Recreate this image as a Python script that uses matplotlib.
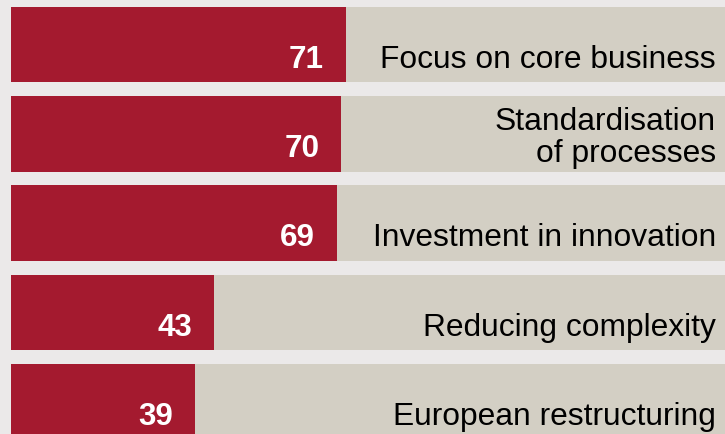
import matplotlib.pyplot as plt

# data
labels = ['Focus on core business', 'Standardisation\nof processes',
          'Investment in innovation', 'Reducing complexity', 'European restructuring']
values = [71, 70, 69, 43, 39]

red = '#a41a2f'
beige = '#d3cfc4'
bg = '#ebe9e9'

plt.rcParams['font.family'] = ['Liberation Sans', 'DejaVu Sans']

fig = plt.figure(figsize=(7.25, 4.35), dpi=100, facecolor=bg)
ax = fig.add_axes([0, 0, 1, 1])
ax.set_facecolor(bg)

pos = list(range(len(values)))
ax.barh(pos, [200] * len(values), height=0.845, color=beige, left=0)
ax.barh(pos, values, height=0.845, color=red, left=0)

for i, (v, lab) in enumerate(zip(values, labels)):
    ax.annotate(str(v), xy=(v, i), xytext=(-22, -22), textcoords='offset pixels',
                ha='right', va='baseline', color='white', fontsize=22.6, fontweight='bold')
    # two-line labels sit a little lower
    dy = -27 if '\n' in lab else -22
    ax.annotate(lab, xy=(1, i), xycoords=('axes fraction', 'data'), xytext=(-9, dy),
                textcoords='offset pixels', ha='right', va='baseline', color='black',
                fontsize=22.9, linespacing=1.1)

ax.set_xlim(-11 / 4.72, 714 / 4.72)
ax.set_ylim(4.36, -0.51)
ax.axis('off')

fig.savefig('out.png', dpi=100, facecolor=bg)
